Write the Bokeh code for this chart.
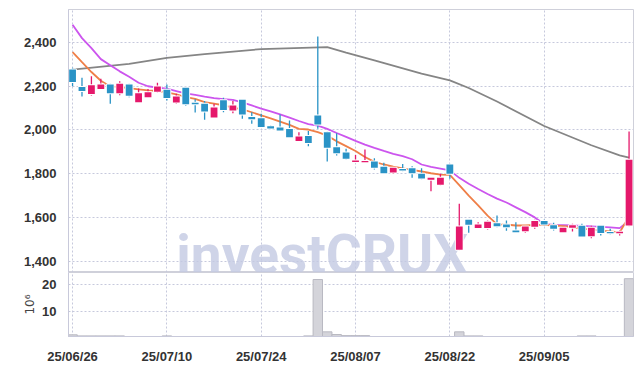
from bokeh.plotting import figure
from bokeh.layouts import column
from bokeh.models import Range1d, FixedTicker, NumeralTickFormatter
from bokeh.core.properties import value
from bokeh.embed import file_html
from bokeh.resources import INLINE

dates = ["25/06/26", "25/06/27", "25/06/30", "25/07/01", "25/07/02", "25/07/03", "25/07/04",
         "25/07/07", "25/07/08", "25/07/09", "25/07/10", "25/07/11", "25/07/14", "25/07/15",
         "25/07/16", "25/07/17", "25/07/18", "25/07/21", "25/07/22", "25/07/23", "25/07/24",
         "25/07/25", "25/07/28", "25/07/29", "25/07/30", "25/07/31", "25/08/01", "25/08/04",
         "25/08/05", "25/08/06", "25/08/07", "25/08/08", "25/08/11", "25/08/12", "25/08/13",
         "25/08/14", "25/08/18", "25/08/19", "25/08/20", "25/08/21", "25/08/22", "25/08/25",
         "25/08/26", "25/08/27", "25/08/28", "25/08/29", "25/09/01", "25/09/02", "25/09/03",
         "25/09/04", "25/09/05", "25/09/08", "25/09/09", "25/09/10", "25/09/11", "25/09/12",
         "25/09/15", "25/09/16", "25/09/17", "25/09/18"]

opens = [2277, 2196, 2164, 2187, 2208, 2168, 2208, 2127, 2150, 2175,
         2184, 2126, 2193, 2124, 2120, 2057, 2136, 2089, 2138, 2059,
         2054, 2017, 2011, 2004, 1949, 1972, 2066, 1990, 1921, 1897,
         1854, 1853, 1856, 1832, 1805, 1821, 1825, 1800, 1772, 1749,
         1842, 1452, 1589, 1551, 1552, 1573, 1568, 1540, 1537, 1557,
         1584, 1564, 1532, 1553, 1562, 1514, 1562, 1532, 1530, 1563]
highs = [2285, 2239, 2246, 2234, 2211, 2223, 2211, 2190, 2187, 2216,
         2208, 2166, 2196, 2140, 2132, 2120, 2147, 2132, 2140, 2081,
         2074, 2021, 2071, 2043, 1990, 1995, 2427, 1993, 1985, 1914,
         1886, 1911, 1871, 1850, 1829, 1844, 1834, 1825, 1785, 1800,
         1845, 1662, 1592, 1578, 1586, 1609, 1586, 1578, 1560, 1589,
         1589, 1575, 1556, 1571, 1571, 1562, 1565, 1548, 1540, 1993]
lows = [2200, 2153, 2158, 2184, 2120, 2159, 2150, 2123, 2147, 2170,
        2135, 2120, 2111, 2080, 2047, 2056, 2081, 2077, 2051, 2028,
        2010, 2004, 1995, 1967, 1947, 1925, 2005, 1856, 1883, 1864,
        1850, 1850, 1819, 1798, 1800, 1811, 1781, 1775, 1720, 1746,
        1777, 1450, 1530, 1548, 1545, 1555, 1539, 1532, 1530, 1548,
        1563, 1540, 1530, 1535, 1513, 1505, 1517, 1523, 1517, 1560]
closes = [2219, 2178, 2204, 2208, 2168, 2211, 2156, 2168, 2173, 2199,
          2146, 2153, 2118, 2118, 2085, 2103, 2091, 2112, 2071, 2049,
          2013, 2007, 1998, 1967, 1970, 1940, 2025, 1919, 1894, 1868,
          1860, 1857, 1827, 1802, 1827, 1815, 1802, 1778, 1781, 1781,
          1800, 1558, 1566, 1568, 1580, 1560, 1555, 1532, 1558, 1584,
          1567, 1548, 1553, 1564, 1513, 1553, 1529, 1528, 1532, 1864]

ma_short = [2356, 2310, 2265, 2225, 2199, 2196, 2191, 2186, 2181, 2179,
            2172, 2163, 2150, 2142, 2127, 2120, 2113, 2102, 2094, 2081,
            2067, 2053, 2038, 2023, 2005, 2002, 1990, 1974, 1948, 1926,
            1904, 1876, 1854, 1842, 1832, 1824, 1817, 1810, 1802, 1796,
            1795, 1748, 1700, 1655, 1608, 1568, 1567, 1563, 1563, 1566,
            1566, 1563, 1560, 1556, 1548, 1545, 1540, 1536, 1531, 1605]
ma_mid = [2481, 2420, 2374, 2324, 2296, 2268, 2243, 2216, 2200, 2194,
          2189, 2178, 2167, 2160, 2152, 2146, 2141, 2138, 2126, 2112,
          2098, 2085, 2071, 2056, 2041, 2027, 2020, 2005, 1986, 1968,
          1950, 1933, 1918, 1904, 1891, 1880, 1866, 1842, 1831, 1823,
          1815, 1781, 1754, 1730, 1707, 1686, 1668, 1646, 1624, 1600,
          1570, 1566, 1565, 1563, 1561, 1559, 1557, 1554, 1551, 1585]
ma_long_idx = [0, 6, 10, 14, 20, 27, 29, 32, 37, 40, 42, 45, 50, 55, 58, 59]
ma_long = [2276, 2302, 2330, 2347, 2370, 2379, 2354, 2318, 2258, 2227, 2192, 2130, 2018, 1930, 1884, 1873]

volumes = [1.4, 1.0, 1.0, 1.0, 1.0, 1.0, 0.5, 0.5, 0.5, 0.5,
           1.0, 0.5, 0.5, 0.5, 0.5, 0.5, 0.5, 0.5, 0.5, 0.5,
           0.5, 0.5, 0.5, 0.5, 0.5, 1.0, 21.9, 2.5, 1.5, 1.1,
           1.1, 1.1, 0.5, 0.5, 0.5, 0.5, 0.5, 0.5, 0.5, 0.5,
           0.5, 2.5, 1.0, 1.0, 0.5, 0.5, 0.5, 0.5, 0.5, 0.5,
           0.5, 0.5, 0.5, 0.5, 1.0, 1.0, 0.5, 0.5, 0.5, 22.2]

price_ticks = [1400, 1600, 1800, 2000, 2200, 2400]
vol_ticks = [10, 20]
date_tick_idx = [0, 10, 20, 30, 40, 50]
watermark = "investCRUX"

UP = "#e5186b"
DOWN = "#2a93c6"
GRID = "#c6c9dc"
FONT = "Liberation Sans"

idx = list(range(len(dates)))
colors = [UP if c >= o else DOWN for o, c in zip(opens, closes)]
tops = [max(o, c) for o, c in zip(opens, closes)]
bots = [min(o, c) for o, c in zip(opens, closes)]
tops = [t if t - b >= 6 else (t + b) / 2 + 3 for t, b in zip(tops, bots)]
bots = [b if t - b >= 6 else t - 6 for t, b in zip(tops, bots)]

xr = Range1d(-0.43, 59.47)

p1 = figure(width=634, height=272, x_range=xr, y_range=Range1d(1348, 2551),
            output_backend="svg", toolbar_location=None,
            min_border_left=68, min_border_right=1, min_border_top=9, min_border_bottom=0)
p2 = figure(width=634, height=94, x_range=xr, y_range=Range1d(0.77, 24.5),
            output_backend="svg", toolbar_location=None,
            min_border_left=68, min_border_right=1, min_border_top=0, min_border_bottom=29)

for p in (p1, p2):
    p.outline_line_color = "#cfd0da"
    p.background_fill_color = "white"
    p.border_fill_color = "white"
    p.xgrid.ticker = FixedTicker(ticks=date_tick_idx)
    for g in (p.xgrid, p.ygrid):
        g.grid_line_color = GRID
        g.grid_line_dash = "2 2"
        g.grid_line_width = 1
    ax = p.yaxis[0]
    ax.axis_line_color = "#c8c9da"
    ax.major_tick_line_color = None
    ax.minor_tick_line_color = None
    ax.major_label_standoff = 6
    ax.major_label_text_font = FONT
    ax.major_label_text_font_style = "bold"
    ax.major_label_text_font_size = "13px"
    ax.major_label_text_color = "#333333"

p1.yaxis.ticker = FixedTicker(ticks=price_ticks)
p1.yaxis.formatter = NumeralTickFormatter(format="0,0")
p1.xaxis.visible = False

# watermark (drawn first, behind everything else)
p1.text(x=[11.0], y=[1430], text=[watermark], text_font=value("Roboto"),
        text_font_style="bold", text_font_size="55px", text_color="#c3c9e2",
        text_alpha=0.8, text_baseline="middle", text_align="left")

# moving averages
p1.line(ma_long_idx, ma_long, line_color="#858585", line_width=1.8)
p1.line(idx, ma_mid, line_color="#cc55ee", line_width=1.8)
p1.line(idx, ma_short, line_color="#ef7f48", line_width=1.8)

# candles
p1.segment(x0=idx, y0=lows, x1=idx, y1=highs, line_color=colors, line_width=1.3)
p1.vbar(x=idx, top=tops, bottom=bots, width=0.72, fill_color=colors,
        line_color="white", line_width=2)
p1.vbar(x=idx, top=tops, bottom=bots, width=0.72, fill_color=colors, line_color=None)

# volume
p2.vbar(x=idx, top=volumes, bottom=0, width=1.0, fill_color="#d4d4da",
        line_color="#b9b9c2", line_width=1)
p2.yaxis.ticker = FixedTicker(ticks=vol_ticks)
p2.yaxis.axis_label = "10\u2076"
p2.yaxis.axis_label_text_font = "DejaVu Sans"
p2.yaxis.axis_label_text_font_style = "normal"
p2.yaxis.axis_label_text_font_size = "12px"
p2.yaxis.axis_label_text_color = "#444444"
p2.yaxis.axis_label_standoff = 2

xa = p2.xaxis[0]
xa.ticker = FixedTicker(ticks=date_tick_idx)
xa.major_label_overrides = {i: dates[i] for i in date_tick_idx}
xa.axis_line_color = "#c8c9da"
xa.major_tick_line_color = None
xa.minor_tick_line_color = None
xa.major_label_standoff = 6
xa.major_label_text_font = FONT
xa.major_label_text_font_style = "bold"
xa.major_label_text_font_size = "13px"
xa.major_label_text_color = "#333333"

layout = column(p1, p2, spacing=0)
open("out.html", "w").write(file_html(layout, INLINE))
